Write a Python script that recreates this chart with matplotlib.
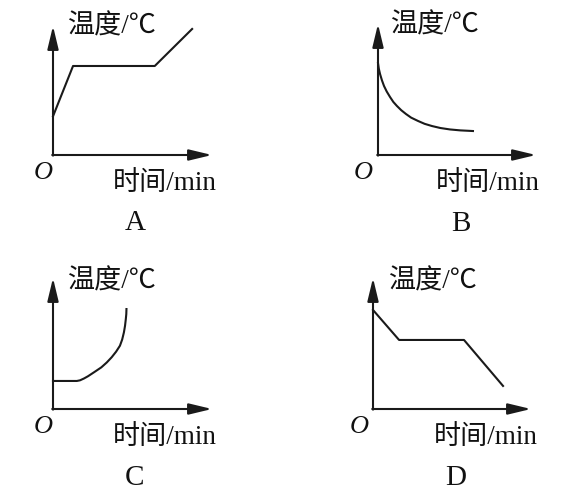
import matplotlib
matplotlib.use("Agg")
import matplotlib.pyplot as plt

W, H = 582, 502

# Data (panel units: x 0..10 to arrow tip, y 0..10 to arrow tip)
a_x = [0, 1.26, 6.4, 8.75]
a_y = [3.0, 6.9, 6.9, 9.77]

b_x = [0, 0.05, 0.13, 0.25, 0.38, 0.55, 0.76, 0.97, 1.20, 1.47, 1.77, 2.1,
       2.53, 2.95, 3.42, 3.95, 4.56, 5.2, 6.01]
b_y = [7.02, 6.6, 6.18, 5.7, 5.27, 4.85, 4.43, 4.05, 3.74, 3.42, 3.13, 2.85,
       2.60, 2.38, 2.21, 2.06, 1.95, 1.88, 1.83]

c_x = [0, 1.5, 1.7, 1.95, 2.2, 2.6, 3.04, 3.38, 3.69, 3.97, 4.21, 4.35, 4.46,
       4.53, 4.58, 4.61, 4.62]
c_y = [2.14, 2.14, 2.19, 2.33, 2.5, 2.82, 3.18, 3.55, 3.95, 4.38, 4.83, 5.3,
       5.85, 6.35, 6.87, 7.25, 7.63]

d_x = [0, 1.65, 5.76, 8.23]
d_y = [7.56, 5.27, 5.27, 1.76]

panel_letters = ["A", "B", "C", "D"]
y_label = "温度/℃"
x_label = "时间/min"

# layout: origin pixel, x tip, y tip
panels = [
    dict(o=(53, 156), tx=212, ty=27, xs=a_x, ys=a_y,
         yl=(111, 27), xl=(165, 183), let=(135, 223), O=(43, 173)),
    dict(o=(378, 156), tx=536, ty=25, xs=b_x, ys=b_y,
         yl=(434, 26), xl=(488, 184), let=(461, 224), O=(363, 173)),
    dict(o=(53, 410), tx=212, ty=279, xs=c_x, ys=c_y,
         yl=(111, 282), xl=(165, 438), let=(135, 478), O=(43, 427)),
    dict(o=(373, 410), tx=531, ty=279, xs=d_x, ys=d_y,
         yl=(432, 282), xl=(486, 438), let=(456, 478), O=(359, 427)),
]

fam = ["Liberation Serif", "Noto Sans CJK SC"]

fig = plt.figure(figsize=(W / 100, H / 100), dpi=100)
fig.patch.set_facecolor("white")

def fpos(x, y):
    return x / W, 1 - y / H

for p, letter in zip(panels, panel_letters):
    ox, oy = p["o"]
    ax = fig.add_axes([ox / W, 1 - oy / H, (p["tx"] - ox) / W, (oy - p["ty"]) / H])
    ax.set_xlim(0, 10)
    ax.set_ylim(0, 10)
    ax.axis("off")
    ap = dict(arrowstyle="-|>,head_length=1.0,head_width=0.24", color="#1a1a1a",
              lw=1.5, mutation_scale=14, shrinkA=0, shrinkB=0)
    ax.annotate("", xy=(10, 0), xytext=(-0.05, 0), arrowprops=ap, annotation_clip=False)
    ax.annotate("", xy=(0, 10), xytext=(0, -0.05), arrowprops=ap, annotation_clip=False)
    ax.plot(p["xs"], p["ys"], color="#1a1a1a", lw=1.5, clip_on=False,
            solid_joinstyle="round")
    x, y = fpos(*p["yl"])
    fig.text(x, y, y_label, family=fam, fontsize=19.5, ha="center", va="center", color="#111111")
    x, y = fpos(*p["xl"])
    fig.text(x, y, x_label, family=fam, fontsize=19.5, ha="center", va="center", color="#111111")
    x, y = fpos(*p["let"])
    fig.text(x, y, letter, family=fam, fontsize=21, ha="center", va="center", color="#111111")
    x, y = fpos(*p["O"])
    fig.text(x, y, "O", family=fam, fontsize=19, style="italic", ha="center", va="center", color="#111111")

fig.savefig("out.png", dpi=100, facecolor="white")
